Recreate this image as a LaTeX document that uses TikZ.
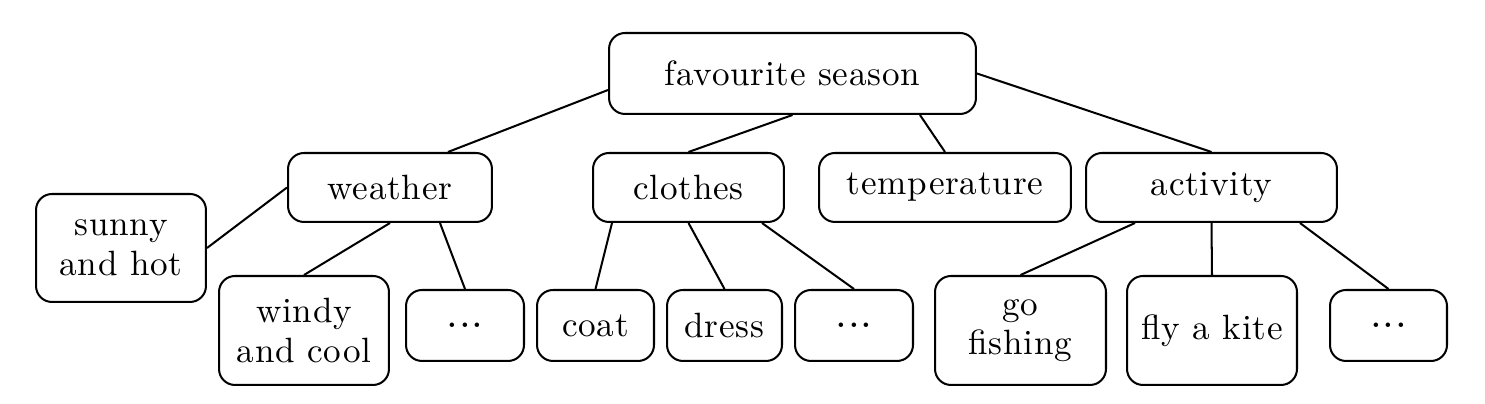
\documentclass[tikz,border=0pt]{standalone}
\usepackage{fontspec}
\setmainfont{lmroman10-regular.otf}[LetterSpace=2.2]
\newcommand{\moredots}{{\fontsize{24}{24}\selectfont...}}
\tikzset{
    box/.style={draw, rounded corners=0.32cm, line width=1.15pt, inner sep=0pt,
        align=center, font=\fontsize{20}{22.5}\selectfont},
    branch/.style={box, minimum height=1.38cm},
    leaf/.style={box, minimum height=1.42cm},
    pair/.style={box, minimum width=3.4cm, minimum height=2.18cm},
    link/.style={line width=1.15pt}
}
\begin{document}
\begin{tikzpicture}[x=0.02cm, y=-0.02cm]
    \useasboundingbox (0,0) rectangle (1485,404);

    % Root
    \node[box, minimum width=7.34cm, minimum height=1.62cm] (season) at (792.5,73.5) {favourite season};

    % Second level
    \node[branch, minimum width=4.08cm] (weather) at (390,187.5) {weather};
    \node[branch, minimum width=3.82cm] (clothes) at (688.5,187.5) {clothes};
    \node[branch, minimum width=5.04cm] (temperature) at (945,187.5) {temperature};
    \node[branch, minimum width=5.02cm] (activity) at (1211.5,187.5) {activity};

    % Weather leaves
    \node[pair, minimum height=2.16cm] (sunny) at (121,248) {sunny\\and hot};
    \node[pair] (windy) at (304,330.5) {windy\\and cool};
    \node[leaf, minimum width=2.36cm] (weatherdots) at (465,325.5) {\moredots};

    % Clothes leaves
    \node[leaf, minimum width=2.34cm] (coat) at (595.5,325.5) {coat};
    \node[leaf, minimum width=2.30cm] (dress) at (724.5,325.5) {dress};
    \node[leaf, minimum width=2.36cm] (clothesdots) at (854,325.5) {\moredots};

    % Activity leaves
    \node[pair, minimum width=3.42cm] (fishing) at (1020.5,330.5) {go\\fishing};
    \node[pair] (kite) at (1212,330.5) {fly a kite};
    \node[leaf, minimum width=2.34cm] (activitydots) at (1388.5,325.5) {\moredots};

    % Root links
    \draw[link] ([yshift=-0.33cm]season.west) -- ([xshift=1.16cm]weather.north);
    \draw[link] (season.south) -- (clothes.north);
    \draw[link] ([xshift=2.55cm]season.south) -- (temperature.north);
    \draw[link] (season.east) -- (activity.north);

    % Weather links
    \draw[link] (weather.west) -- (sunny.east);
    \draw[link] (weather.south) -- (windy.north);
    \draw[link] ([xshift=1cm]weather.south) -- (weatherdots.north);

    % Clothes links
    \draw[link] ([xshift=-1.53cm]clothes.south) -- (coat.north);
    \draw[link] (clothes.south) -- (dress.north);
    \draw[link] ([xshift=1.47cm]clothes.south) -- (clothesdots.north);

    % Activity links
    \draw[link] ([xshift=-1.53cm]activity.south) -- (fishing.north);
    \draw[link] (activity.south) -- (kite.north);
    \draw[link] ([xshift=1.77cm]activity.south) -- (activitydots.north);
\end{tikzpicture}
\end{document}
